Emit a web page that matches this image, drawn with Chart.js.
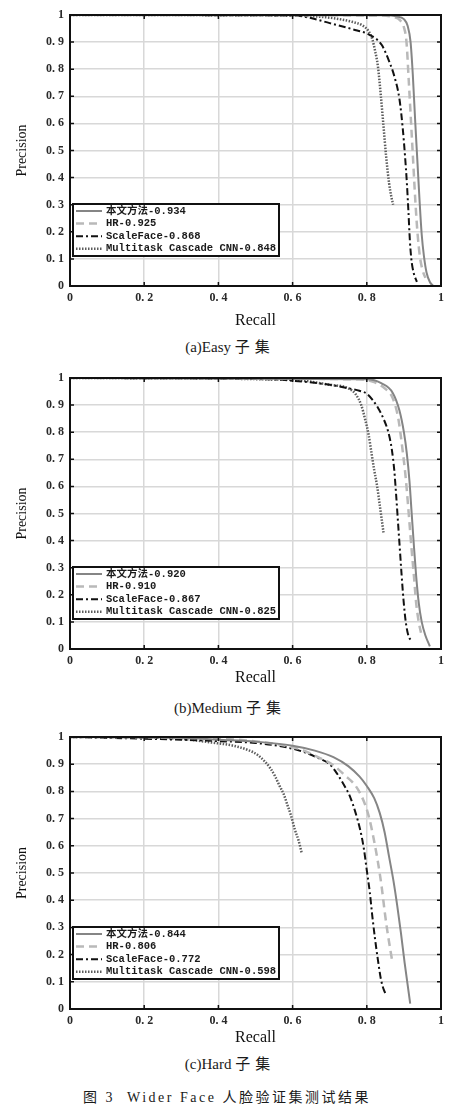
<!DOCTYPE html>
<html>
<head>
<meta charset="utf-8">
<script src="https://cdn.jsdelivr.net/npm/chart.js@4.4.1/dist/chart.umd.min.js"></script>
<style>
body { margin: 0; background: #fff; width: 460px; height: 1113px; position: relative; overflow: hidden; }
canvas { position: absolute; left: 0; }
.cap { position: absolute; left: 0; width: 460px; text-align: center; font-family: "Liberation Serif", "Noto Sans CJK SC", serif; color: #1a1a1a; line-height: 20px; }
.cap .cn { letter-spacing: 5px; }
</style>
</head>
<body>
<canvas id="easy" width="460" height="334" style="top:0"></canvas>
<canvas id="medium" width="460" height="329" style="top:362px"></canvas>
<canvas id="hard" width="460" height="329" style="top:722px"></canvas>
<div class="cap" style="top:337px;font-size:15px">(a)Easy <span class="cn">子集</span></div>
<div class="cap" style="top:698px;font-size:15px">(b)Medium <span class="cn">子集</span></div>
<div class="cap" style="top:1054px;font-size:15px">(c)Hard <span class="cn">子集</span></div>
<div class="cap" style="top:1088px;font-size:14px;letter-spacing:2.5px;left:-3px">图 3&nbsp; Wider Face 人脸验证集测试结果</div>
<script>
// 축 눈금
const xTicks = [0, 0.2, 0.4, 0.6, 0.8, 1];
const yTicks = [0, 0.1, 0.2, 0.3, 0.4, 0.5, 0.6, 0.7, 0.8, 0.9, 1];

// (a) Easy  [recall, precision]
const easyLabels = ['本文方法-0.934', 'HR-0.925', 'ScaleFace-0.868', 'Multitask Cascade CNN-0.848'];
const easyOurs = [[0,1],[0.85,0.999],[0.88,0.995],[0.9,0.985],[0.91,0.96],[0.918,0.9],[0.924,0.78],[0.93,0.62],[0.936,0.47],[0.942,0.32],[0.948,0.19],[0.954,0.11],[0.961,0.05],[0.97,0.015],[0.979,0]];
const easyHR = [[0,1],[0.84,0.998],[0.87,0.993],[0.89,0.98],[0.9,0.955],[0.907,0.9],[0.913,0.76],[0.919,0.61],[0.925,0.46],[0.931,0.31],[0.937,0.19],[0.943,0.11],[0.95,0.06],[0.958,0.03]];
const easyScale = [[0,1],[0.6,0.998],[0.645,0.99],[0.7,0.97],[0.76,0.948],[0.81,0.925],[0.84,0.89],[0.86,0.83],[0.875,0.77],[0.888,0.69],[0.897,0.58],[0.903,0.48],[0.908,0.38],[0.912,0.28],[0.916,0.17],[0.92,0.1],[0.926,0.05],[0.935,0.015]];
const easyMT = [[0,1],[0.6,0.998],[0.7,0.99],[0.76,0.975],[0.79,0.96],[0.805,0.94],[0.815,0.91],[0.822,0.87],[0.83,0.81],[0.838,0.7],[0.845,0.59],[0.852,0.48],[0.86,0.38],[0.866,0.33],[0.871,0.3]];

// (b) Medium
const mediumLabels = ['本文方法-0.920', 'HR-0.910', 'ScaleFace-0.867', 'Multitask Cascade CNN-0.825'];
const mediumOurs = [[0,1],[0.8,0.995],[0.84,0.98],[0.87,0.945],[0.888,0.88],[0.9,0.8],[0.908,0.72],[0.915,0.62],[0.921,0.5],[0.927,0.38],[0.933,0.27],[0.94,0.17],[0.948,0.1],[0.958,0.05],[0.97,0.01]];
const mediumHR = [[0,1],[0.78,0.995],[0.82,0.985],[0.85,0.96],[0.87,0.925],[0.885,0.85],[0.895,0.75],[0.905,0.63],[0.913,0.5],[0.92,0.38],[0.927,0.27],[0.933,0.17],[0.94,0.1],[0.946,0.06]];
const mediumScale = [[0,1],[0.55,0.995],[0.6,0.99],[0.7,0.975],[0.75,0.962],[0.78,0.953],[0.8,0.942],[0.815,0.92],[0.83,0.89],[0.845,0.85],[0.858,0.8],[0.867,0.74],[0.874,0.66],[0.879,0.57],[0.884,0.47],[0.889,0.37],[0.894,0.27],[0.899,0.18],[0.905,0.1],[0.912,0.05],[0.92,0.03]];
const mediumMT = [[0,1],[0.6,0.993],[0.7,0.975],[0.75,0.962],[0.77,0.94],[0.785,0.9],[0.795,0.85],[0.805,0.79],[0.813,0.72],[0.82,0.66],[0.828,0.6],[0.835,0.53],[0.841,0.47],[0.845,0.43]];

// (c) Hard
const hardLabels = ['本文方法-0.844', 'HR-0.806', 'ScaleFace-0.772', 'Multitask Cascade CNN-0.598'];
const hardOurs = [[0,1],[0.3,0.997],[0.4,0.99],[0.5,0.983],[0.6,0.968],[0.66,0.95],[0.71,0.926],[0.75,0.893],[0.78,0.855],[0.8,0.82],[0.82,0.775],[0.835,0.72],[0.848,0.65],[0.86,0.56],[0.872,0.47],[0.882,0.38],[0.892,0.28],[0.902,0.17],[0.91,0.09],[0.917,0.02]];
const hardHR = [[0,1],[0.3,0.997],[0.45,0.99],[0.55,0.975],[0.62,0.955],[0.67,0.925],[0.71,0.896],[0.74,0.86],[0.77,0.82],[0.79,0.77],[0.805,0.71],[0.818,0.63],[0.83,0.54],[0.84,0.45],[0.848,0.36],[0.855,0.29],[0.862,0.23],[0.868,0.18]];
const hardScale = [[0,1],[0.3,0.99],[0.4,0.985],[0.5,0.978],[0.58,0.963],[0.63,0.945],[0.67,0.922],[0.7,0.9],[0.72,0.865],[0.74,0.82],[0.755,0.78],[0.77,0.72],[0.782,0.66],[0.792,0.59],[0.8,0.51],[0.808,0.43],[0.815,0.34],[0.822,0.26],[0.83,0.18],[0.838,0.11],[0.846,0.07],[0.854,0.05]];
const hardMT = [[0,1],[0.2,0.998],[0.3,0.993],[0.38,0.98],[0.44,0.968],[0.48,0.952],[0.505,0.935],[0.525,0.91],[0.54,0.885],[0.553,0.855],[0.565,0.82],[0.576,0.79],[0.586,0.75],[0.596,0.71],[0.606,0.66],[0.616,0.62],[0.625,0.571]];

const STYLES = [
    { borderColor: '#858585', borderWidth: 2, borderDash: [] },
    { borderColor: '#b9b9b9', borderWidth: 2.5, borderDash: [8, 5] },
    { borderColor: '#111111', borderWidth: 2, borderDash: [7, 3, 2, 3] },
    { borderColor: '#5c5c5c', borderWidth: 2.5, borderDash: [1.5, 1.5] }
];
const MONO = '"Liberation Mono", "Noto Sans CJK SC", monospace';
const SERIF = '"Liberation Serif", serif';

// 박스 테두리 + 안쪽 눈금
const frame = {
    id: 'frame',
    afterDatasetsDraw(chart) {
        const { ctx, chartArea: a, scales } = chart;
        ctx.save();
        ctx.strokeStyle = '#111';
        ctx.lineWidth = 1.5;
        ctx.beginPath();
        xTicks.forEach(v => {
            const px = scales.x.getPixelForValue(v);
            ctx.moveTo(px, a.bottom); ctx.lineTo(px, a.bottom - 4);
            ctx.moveTo(px, a.top); ctx.lineTo(px, a.top + 4);
        });
        yTicks.forEach(v => {
            const py = scales.y.getPixelForValue(v);
            ctx.moveTo(a.left, py); ctx.lineTo(a.left + 4, py);
            ctx.moveTo(a.right, py); ctx.lineTo(a.right - 4, py);
        });
        ctx.stroke();
        ctx.lineWidth = 2;
        ctx.strokeRect(a.left, a.top, a.right - a.left, a.bottom - a.top);

        // 범례 박스
        const x0 = a.left + 3, h = 52, y0 = a.bottom - 30 - h, w = 206;
        ctx.fillStyle = '#fff';
        ctx.fillRect(x0, y0, w, h);
        ctx.strokeRect(x0, y0, w, h);
        ctx.font = 'bold 10.5px ' + MONO;
        ctx.textBaseline = 'middle';
        chart.data.datasets.forEach((ds, i) => {
            const y = y0 + 7 + i * 12.6;
            ctx.beginPath();
            ctx.setLineDash(ds.borderDash);
            ctx.lineWidth = ds.borderWidth;
            ctx.strokeStyle = ds.borderColor;
            ctx.moveTo(x0 + 3, y); ctx.lineTo(x0 + 29, y);
            ctx.stroke();
            ctx.setLineDash([]);
            ctx.fillStyle = '#1a1a1a';
            ctx.fillText(ds.label, x0 + 33, y);
        });
        ctx.restore();
    }
};

function fmt(v) {
    if (v === 0) return '0';
    if (v === 1) return '1';
    return v.toFixed(1).replace('.', '. ');
}

function makeChart(id, labels, series, padTop, axisH) {
    const ctx = document.getElementById(id);
    new Chart(ctx, {
        type: 'line',
        data: {
            datasets: series.map((s, i) => Object.assign({
                label: labels[i],
                data: s.map(p => ({ x: p[0], y: p[1] })),
                pointRadius: 0,
                fill: false,
                cubicInterpolationMode: 'monotone'
            }, STYLES[i]))
        },
        options: {
            responsive: false,
            animation: false,
            devicePixelRatio: 1,
            layout: { padding: { top: padTop, right: 19, left: 0, bottom: 0 } },
            plugins: { legend: { display: false }, tooltip: { enabled: false } },
            scales: {
                x: {
                    type: 'linear', min: 0, max: 1,
                    afterBuildTicks: s => { s.ticks = xTicks.map(v => ({ value: v })); },
                    afterFit: s => { s.height = axisH; },
                    grid: { color: '#d8d8d8', lineWidth: 1.5, drawTicks: false },
                    border: { display: false },
                    ticks: { padding: 5, color: '#2a2a2a', maxRotation: 0, autoSkip: false,
                             font: { family: SERIF, size: 12, weight: 'bold' }, callback: fmt },
                    title: { display: true, text: 'Recall', color: '#111',
                             font: { family: SERIF, size: 16 }, padding: { top: 0, bottom: 4 } }
                },
                y: {
                    type: 'linear', min: 0, max: 1,
                    afterBuildTicks: s => { s.ticks = yTicks.map(v => ({ value: v })); },
                    afterFit: s => { s.width = 70; },
                    grid: { color: '#d8d8d8', lineWidth: 1.5, drawTicks: false },
                    border: { display: false },
                    ticks: { padding: 6, color: '#2a2a2a', autoSkip: false,
                             font: { family: SERIF, size: 12, weight: 'bold' }, callback: fmt },
                    title: { display: true, text: 'Precision', color: '#111',
                             font: { family: SERIF, size: 14 }, padding: { top: 14, bottom: 0 } }
                }
            }
        },
        plugins: [frame]
    });
}

makeChart('easy', easyLabels, [easyOurs, easyHR, easyScale, easyMT], 15, 48);
makeChart('medium', mediumLabels, [mediumOurs, mediumHR, mediumScale, mediumMT], 16, 42);
makeChart('hard', hardLabels, [hardOurs, hardHR, hardScale, hardMT], 15, 42);
</script>
</body>
</html>
